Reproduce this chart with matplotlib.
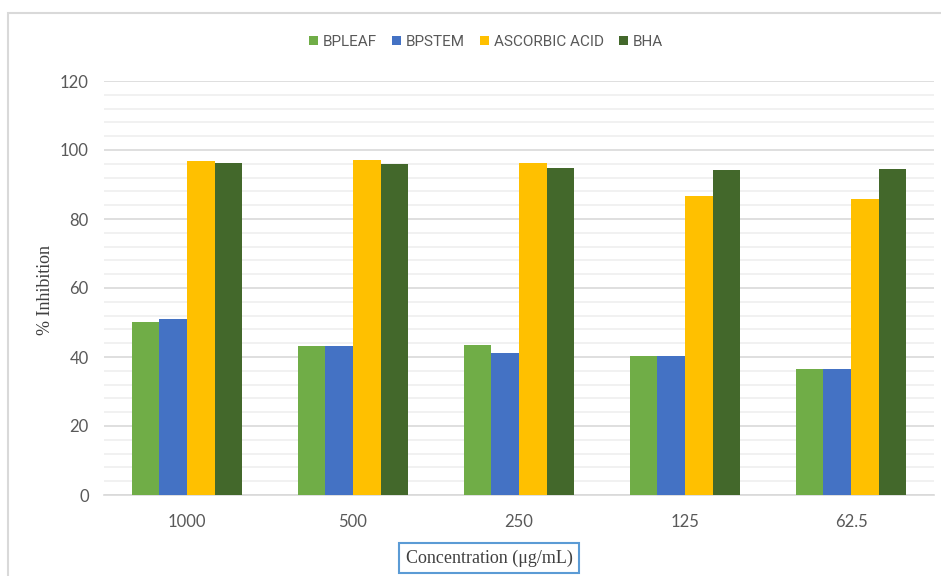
import numpy as np
import matplotlib.pyplot as plt
from matplotlib.ticker import MultipleLocator
from matplotlib.patches import Rectangle

concentrations = ['1000', '500', '250', '125', '62.5']
bpleaf = [50.1, 43.3, 43.4, 40.2, 36.4]
bpstem = [51.1, 43.3, 41.1, 40.2, 36.4]
ascorbic = [96.8, 97.1, 96.1, 86.6, 85.8]
bha = [96.1, 95.8, 94.7, 94.1, 94.4]

series = [('BPLEAF', bpleaf, '#70AD47'),
          ('BPSTEM', bpstem, '#4472C4'),
          ('ASCORBIC ACID', ascorbic, '#FFC000'),
          ('BHA', bha, '#43682B')]

fig = plt.figure(figsize=(9.41, 5.76), dpi=100)
ax = fig.add_axes([104/941, 1 - 495/576, 830/941, 414/576])

x = np.arange(len(concentrations))
w = 0.667 / 4
for k, (name, vals, col) in enumerate(series):
    ax.bar(x + (k - 1.5) * w, vals, w, color=col, label=name, zorder=3)

ax.set_xlim(-0.5, len(concentrations) - 0.5)
ax.set_ylim(0, 120)
ax.yaxis.set_major_locator(MultipleLocator(20))
ax.yaxis.set_minor_locator(MultipleLocator(4))
ax.grid(axis='y', which='major', color='#d9d9d9', linewidth=1.2, zorder=0)
ax.grid(axis='y', which='minor', color='#efefef', linewidth=1.2, zorder=0)
for s in ['top', 'right', 'left']:
    ax.spines[s].set_visible(False)
ax.spines['bottom'].set_color('#d9d9d9')
ax.spines['bottom'].set_linewidth(1.2)
ax.tick_params(which='both', length=0)
ax.tick_params(axis='y', pad=11, labelsize=12, labelcolor='#595959')
ax.tick_params(axis='x', pad=14, labelsize=12, labelcolor='#595959')
ax.set_xticks(x)
ax.set_xticklabels(concentrations, family=['Lato', 'DejaVu Sans'])
for lbl in ax.get_yticklabels():
    lbl.set_family(['Lato', 'DejaVu Sans'])

fig.text(45/941, 1 - 290/576, '% Inhibition', rotation=90, ha='center', va='center',
         family='Liberation Serif', fontsize=13, color='#404040')
fig.text(489/941, 1 - 558/576, 'Concentration (\u03bcg/mL)', ha='center', va='center',
         family='Liberation Serif', fontsize=13, color='#404040',
         bbox=dict(boxstyle='square,pad=0.35', fc='white', ec='#5B9BD5', lw=1.5))

leg = fig.legend(loc='center', bbox_to_anchor=(486/941, 1 - 42/576), ncol=4,
                 frameon=False, handlelength=0.6, handleheight=0.6, handletextpad=0.3,
                 columnspacing=1.0, prop={'family': ['Liberation Sans Narrow', 'Roboto', 'DejaVu Sans'],
                                          'size': 11})
for t in leg.get_texts():
    t.set_color('#595959')

# chart area outline
fig.patches.append(Rectangle((8/941, -0.1), 1.2, 1 - 13/576 + 0.1, transform=fig.transFigure,
                             fill=False, ec='#d9d9d9', lw=1.5))

fig.savefig('out.png', dpi=100)
